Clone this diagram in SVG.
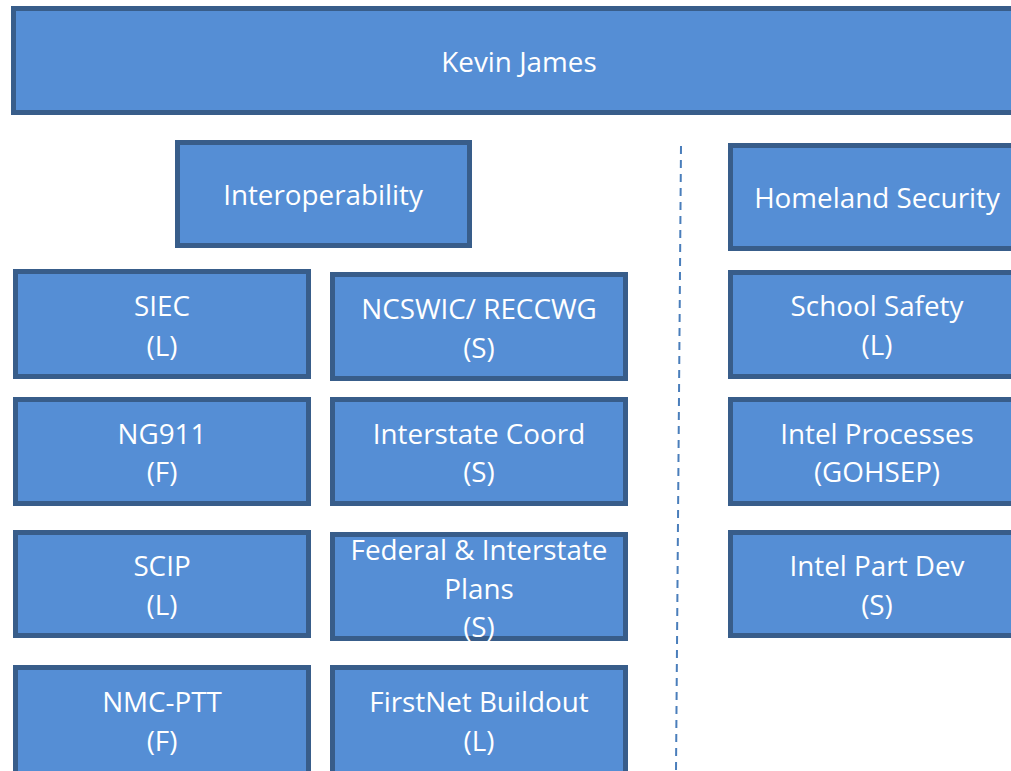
<svg xmlns="http://www.w3.org/2000/svg" width="1011" height="771" viewBox="0 0 1011 771">
<style>
.box{fill:#558ED5;stroke:#385D8A;stroke-width:5;}
.t{fill:#FFFFFF;font-family:"Open Sans","Liberation Sans",sans-serif;font-size:27.8px;text-anchor:middle;}
.dash{stroke:#4A7EBB;stroke-width:2;stroke-dasharray:8 6;fill:none;}
</style>
<rect width="1011" height="771" fill="#FFFFFF"/>
<g id="connectors">
<line class="dash" x1="681" y1="146" x2="676" y2="771"/>
</g>
<g id="kevin"><rect class="box" x="13.5" y="8.5" width="1010" height="104"/><text class="t" x="519" y="72">Kevin James</text></g>
<g id="interop"><rect class="box" x="177.5" y="142.5" width="292" height="103"/><text class="t" x="323" y="205">Interoperability</text></g>
<g id="homeland"><rect class="box" x="730.5" y="145.5" width="300" height="103"/><text class="t" x="877" y="208">Homeland Security</text></g>
<g id="siec"><rect class="box" x="15.5" y="271.5" width="293" height="105"/><text class="t" x="162" y="316">SIEC</text><text class="t" x="162" y="356">(L)</text></g>
<g id="ncswic"><rect class="box" x="332.5" y="274.5" width="293" height="104"/><text class="t" x="479" y="319">NCSWIC/ RECCWG</text><text class="t" x="479" y="358">(S)</text></g>
<g id="school"><rect class="box" x="730.5" y="272.5" width="300" height="104"/><text class="t" x="877" y="316">School Safety</text><text class="t" x="877" y="355">(L)</text></g>
<g id="ng911"><rect class="box" x="15.5" y="399.5" width="293" height="104"/><text class="t" x="162" y="444">NG911</text><text class="t" x="162" y="482">(F)</text></g>
<g id="interstate"><rect class="box" x="332.5" y="399.5" width="293" height="104"/><text class="t" x="479" y="444">Interstate Coord</text><text class="t" x="479" y="482">(S)</text></g>
<g id="intelproc"><rect class="box" x="730.5" y="399.5" width="300" height="104"/><text class="t" x="877" y="444">Intel Processes</text><text class="t" x="877" y="482">(GOHSEP)</text></g>
<g id="scip"><rect class="box" x="15.5" y="532.5" width="293" height="103"/><text class="t" x="162" y="576">SCIP</text><text class="t" x="162" y="615">(L)</text></g>
<g id="federal"><rect class="box" x="332.5" y="534.5" width="293" height="104"/><text class="t" x="479" y="560">Federal &amp; Interstate</text><text class="t" x="479" y="599">Plans</text><text class="t" x="479" y="637">(S)</text></g>
<g id="intelpart"><rect class="box" x="730.5" y="532.5" width="300" height="103"/><text class="t" x="877" y="576">Intel Part Dev</text><text class="t" x="877" y="615">(S)</text></g>
<g id="nmc"><rect class="box" x="15.5" y="667.5" width="293" height="120"/><text class="t" x="162" y="712">NMC-PTT</text><text class="t" x="162" y="751">(F)</text></g>
<g id="firstnet"><rect class="box" x="332.5" y="667.5" width="293" height="120"/><text class="t" x="479" y="712">FirstNet Buildout</text><text class="t" x="479" y="751">(L)</text></g>
</svg>
